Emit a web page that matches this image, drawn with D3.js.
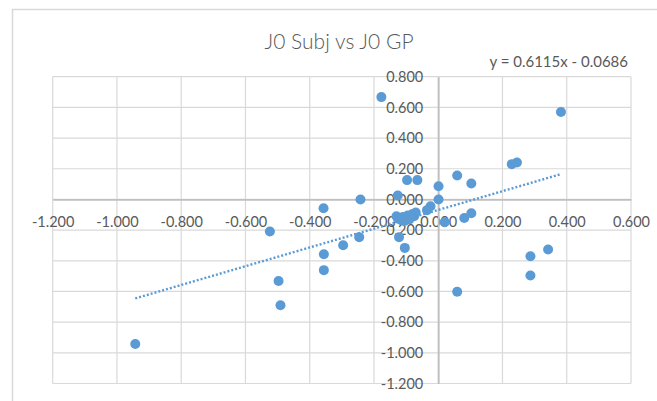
<!DOCTYPE html>
<html>
<head>
<meta charset="utf-8">
<script src="https://cdn.jsdelivr.net/npm/d3@7"></script>
<style>
  body { margin: 0; background: #fff; }
  text { font-family: Lato, "Open Sans", sans-serif; fill: #595959; }
</style>
</head>
<body>
<svg></svg>
<script>
// J0 GP (x) and J0 Subj (y)
var gpValues = [-0.177, 0.382, 0.229, 0.245, 0.059, 0.103, -0.097, -0.065, 0.001, -0.126,
                -0.242, 0.001, -0.357, -0.524, -0.024, -0.035, 0.020, 0.081, 0.103, -0.122,
                -0.104, -0.246, -0.296, -0.356, -0.356, -0.497, -0.491, -0.943, 0.059, 0.287,
                0.287, 0.342, -0.125, -0.115, -0.110, -0.100, -0.095, -0.085, -0.080, -0.070,
                -0.075, -0.105, -0.130, -0.090];
var subjValues = [0.667, 0.570, 0.230, 0.241, 0.156, 0.104, 0.126, 0.126, 0.086, 0.025,
                  0.000, 0.000, -0.057, -0.209, -0.044, -0.070, -0.149, -0.121, -0.090, -0.246,
                  -0.316, -0.246, -0.299, -0.357, -0.461, -0.532, -0.690, -0.943, -0.602, -0.370,
                  -0.496, -0.326, -0.125, -0.135, -0.115, -0.125, -0.105, -0.115, -0.095, -0.085,
                  -0.110, -0.140, -0.110, -0.130];

// trendline as printed on the chart
var slope = 0.6115;
var intercept = -0.0686;

var xTicks = [-1.2, -1.0, -0.8, -0.6, -0.4, -0.2, 0, 0.2, 0.4, 0.6];
var xTickLabels = ["-1.200", "-1.000", "-0.800", "-0.600", "-0.400", "-0.200", "0.000", "0.200", "0.400", "0.600"];
var yTicks = [-1.2, -1.0, -0.8, -0.6, -0.4, -0.2, 0, 0.2, 0.4, 0.6, 0.8];
var yTickLabels = ["-1.200", "-1.000", "-0.800", "-0.600", "-0.400", "-0.200", "0.000", "0.200", "0.400", "0.600", "0.800"];

var title = "J0 Subj vs J0 GP";
var equation = "y = 0.6115x - 0.0686";

//measurements
var screen = {width: 657, height: 401};
var plot = {left: 52.7, right: 631, top: 76.7, bottom: 383.5};

var svg = d3.select("svg")
            .attr("width", screen.width)
            .attr("height", screen.height);

// chart area border (runs off the right and bottom)
svg.append("rect")
   .attr("x", 12.5)
   .attr("y", 9.5)
   .attr("width", 700)
   .attr("height", 450)
   .attr("fill", "#fff")
   .attr("stroke", "#d9d9d9")
   .attr("stroke-width", 1.5);

//scales
var xScale = d3.scaleLinear()
               .domain([-1.2, 0.6])
               .range([plot.left, plot.right]);

var yScale = d3.scaleLinear()
               .domain([-1.2, 0.8])
               .range([plot.bottom, plot.top]);

//gridlines
svg.append("g").selectAll("line")
   .data(xTicks)
   .enter()
   .append("line")
   .attr("x1", function(d){return xScale(d)})
   .attr("x2", function(d){return xScale(d)})
   .attr("y1", plot.top)
   .attr("y2", plot.bottom)
   .attr("stroke", "#d9d9d9")
   .attr("stroke-width", 1.2);

svg.append("g").selectAll("line")
   .data(yTicks)
   .enter()
   .append("line")
   .attr("x1", plot.left)
   .attr("x2", plot.right)
   .attr("y1", function(d){return yScale(d)})
   .attr("y2", function(d){return yScale(d)})
   .attr("stroke", "#d9d9d9")
   .attr("stroke-width", 1.2);

//axes crossing at zero
var xAxis = svg.append("g")
               .attr("transform", "translate(0," + yScale(0) + ")")
               .call(d3.axisBottom(xScale)
                       .tickValues(xTicks)
                       .tickFormat(function(d, i){return xTickLabels[i]})
                       .tickSize(0)
                       .tickPadding(17));

var yAxis = svg.append("g")
               .attr("transform", "translate(" + xScale(0) + ",0)")
               .call(d3.axisLeft(yScale)
                       .tickValues(yTicks)
                       .tickFormat(function(d, i){return yTickLabels[i]})
                       .tickSize(0)
                       .tickPadding(15));

svg.selectAll(".domain")
   .attr("stroke", "#bfbfbf")
   .attr("stroke-width", 1.8);

svg.selectAll(".tick text")
   .attr("fill", "#595959")
   .style("font-family", "Lato, 'Open Sans', sans-serif")
   .style("font-size", "14.5px");

//points
svg.append("g").selectAll("circle")
   .data(gpValues)
   .enter()
   .append("circle")
   .attr("cx", function(d){return xScale(d)})
   .attr("cy", function(d, i){return yScale(subjValues[i])})
   .attr("r", 5)
   .attr("fill", "#5b9bd5");

//trendline over the data's x range
var xExtent = d3.extent(gpValues);
svg.append("line")
   .attr("x1", xScale(xExtent[0]))
   .attr("y1", yScale(slope * xExtent[0] + intercept))
   .attr("x2", xScale(xExtent[1]))
   .attr("y2", yScale(slope * xExtent[1] + intercept))
   .attr("stroke", "#5b9bd5")
   .attr("stroke-width", 2.4)
   .attr("stroke-dasharray", "2,2");

//title and equation
svg.append("text")
   .attr("x", 339)
   .attr("y", 40)
   .attr("text-anchor", "middle")
   .attr("dominant-baseline", "central")
   .style("font-size", "21px")
   .style("font-weight", 300)
   .text(title);

svg.append("text")
   .attr("x", 628)
   .attr("y", 61)
   .attr("text-anchor", "end")
   .attr("dominant-baseline", "central")
   .style("font-size", "15px")
   .text(equation);
</script>
</body>
</html>
